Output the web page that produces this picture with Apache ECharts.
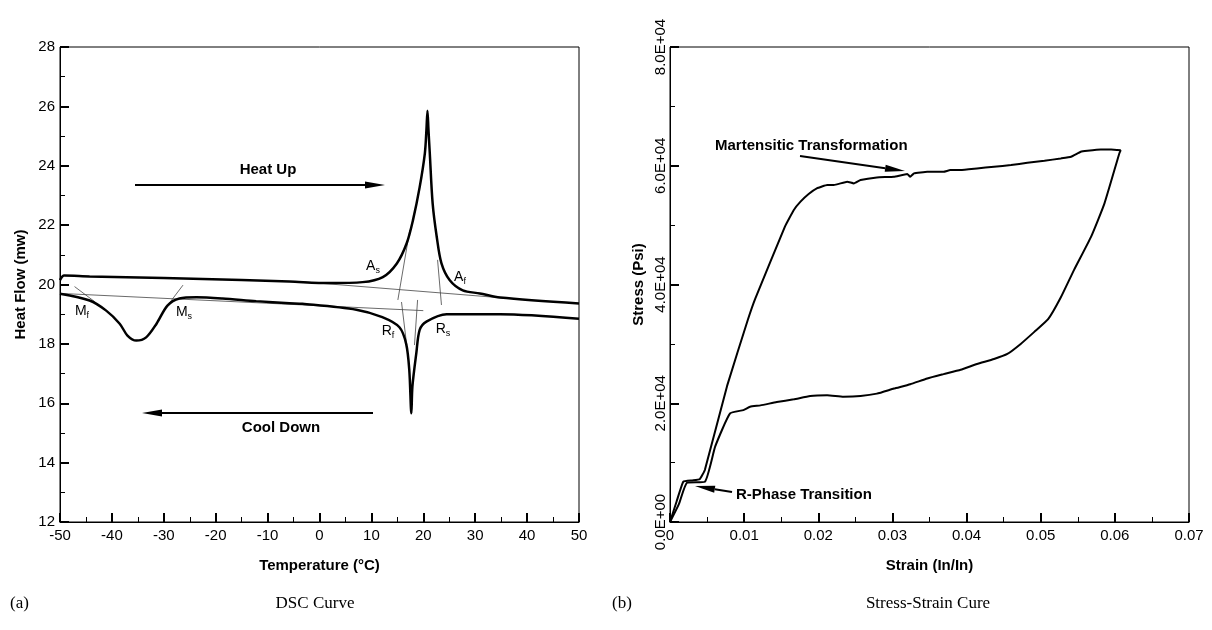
<!DOCTYPE html>
<html>
<head>
<meta charset="utf-8">
<script src="https://cdn.jsdelivr.net/npm/echarts@6/dist/echarts.min.js"></script>
<style>
  html, body { margin: 0; padding: 0; background: #fff; }
  #main { width: 1212px; height: 630px; }
</style>
</head>
<body>
<div id="main"></div>
<script>
// DSC curve (a)
var heatT = [-50, -49.2, -44.3, -30, -15, -5.8, 1.9, 8.3, 12.2, 14.9, 16.8, 18.0, 19.3, 20.3, 20.6, 20.8, 21.0, 21.25, 21.8, 22.6, 23.5, 25.1, 27.6, 30.9, 34.8, 50];
var heatH = [20.15, 20.3, 20.27, 20.22, 20.15, 20.1, 20.05, 20.08, 20.25, 20.71, 21.39, 22.16, 23.28, 24.42, 25.2, 25.85, 25.2, 24.42, 22.73, 21.59, 20.71, 20.14, 19.8, 19.7, 19.56, 19.36];
var coolT = [-50, -44.3, -41.1, -38.5, -37.0, -35.3, -33.4, -31.4, -29.3, -27.0, -23.7, -18.7, -12.2, -5.8, -3.3, 7.1, 12.1, 15.4, 16.7, 17.3, 17.7, 17.9, 18.65, 19.3, 20.6, 24.5, 34.8, 50];
var coolH = [19.69, 19.46, 19.12, 18.68, 18.28, 18.11, 18.22, 18.68, 19.29, 19.53, 19.57, 19.53, 19.44, 19.37, 19.35, 19.15, 18.9, 18.56, 18.0, 17.12, 15.66, 16.56, 17.68, 18.47, 18.75, 19.0, 19.0, 18.85];
// construction (tangent / baseline) lines
var coolBaseT = [-50, 20], coolBaseH = [19.7, 19.12];
var heatBaseT = [-3.2, 38], heatBaseH = [20.09, 19.51];
var tanAsT = [17.4, 15.1], tanAsH = [21.84, 19.48];
var tanAfT = [22.75, 23.5], tanAfH = [20.83, 19.31];
var tanRfT = [15.8, 16.8], tanRfH = [19.41, 17.96];
var tanRsT = [18.9, 18.3], tanRsH = [19.48, 17.96];
var tanMfT = [-47.2, -43.3], tanMfH = [19.93, 19.42];
var tanMsT = [-26.3, -29.2], tanMsH = [19.98, 19.31];

// Stress-strain curve (b)
var loadStrain = [0, 0.0009, 0.0018, 0.003, 0.004, 0.0047, 0.0077, 0.0105, 0.0115, 0.0155, 0.0167, 0.0176, 0.0187, 0.0198, 0.0212, 0.0221, 0.0239, 0.0248, 0.0257, 0.0279, 0.0302, 0.032, 0.0324, 0.0329, 0.0347, 0.0369, 0.0378, 0.0392, 0.0414, 0.0437, 0.046, 0.0482, 0.0505, 0.0527, 0.0541, 0.0554, 0.0563, 0.0581, 0.0595, 0.0608];
var loadStress = [0, 3500, 6790, 7000, 7190, 8770, 22920, 34060, 37630, 49750, 52550, 53950, 55240, 56190, 56750, 56750, 57310, 57030, 57590, 58040, 58150, 58600, 58150, 58710, 58990, 58990, 59270, 59270, 59550, 59830, 60110, 60500, 60840, 61230, 61510, 62350, 62520, 62750, 62750, 62630];
var unloadStrain = [0.0608, 0.0606, 0.0586, 0.0568, 0.0545, 0.0527, 0.051, 0.0491, 0.0473, 0.0455, 0.0437, 0.0414, 0.0392, 0.0369, 0.0347, 0.0324, 0.0302, 0.0279, 0.0257, 0.0234, 0.0212, 0.0189, 0.0167, 0.0144, 0.0122, 0.0108, 0.0099, 0.0081, 0.0061, 0.0047, 0.0023, 0.0012, 0];
var unloadStress = [62630, 62070, 53670, 48070, 42470, 37800, 34150, 31980, 29990, 28300, 27450, 26600, 25640, 24900, 24170, 23200, 22470, 21620, 21220, 21110, 21340, 21220, 20660, 20200, 19640, 19410, 18850, 18280, 12730, 6790, 6620, 3000, 0];

function pairs(xs, ys) {
  return xs.map(function (x, i) { return [x, ys[i]]; });
}

var FONT = 'Liberation Sans, Arial, sans-serif';

function axisStyle() {
  return {
    axisLine: { onZero: false, lineStyle: { color: '#000', width: 1 } },
    axisTick: { inside: true, length: 9, lineStyle: { color: '#000', width: 2 } },
    minorTick: { show: true, splitNumber: 2, length: 5, lineStyle: { color: '#000', width: 1 } },
    splitLine: { show: false },
    nameTextStyle: { color: '#000', fontSize: 15, fontWeight: 'bold', fontFamily: FONT }
  };
}

function mk(extra) {
  var a = axisStyle();
  for (var k in extra) a[k] = extra[k];
  return a;
}

function sciLabel(v) {
  if (v === 0) return '0.0E+00';
  var e = Math.floor(Math.log10(v));
  var m = v / Math.pow(10, e);
  return m.toFixed(1) + 'E+' + (e < 10 ? '0' + e : e);
}

function thick(xi, name, data, w, smooth) {
  return { type: 'line', name: name, xAxisIndex: xi, yAxisIndex: xi, data: data, showSymbol: false, smooth: smooth,
    lineStyle: { color: '#000', width: w }, silent: true, z: 3 };
}
function thin(data) {
  return { type: 'line', xAxisIndex: 0, yAxisIndex: 0, data: data, showSymbol: false,
    lineStyle: { color: '#444', width: 0.8 }, silent: true, z: 2 };
}

function arrow(x1, y1, x2, y2) {
  var dx = x2 - x1, dy = y2 - y1, len = Math.sqrt(dx * dx + dy * dy);
  var ux = dx / len, uy = dy / len, hl = 20, hw = 3.5;
  var bx = x2 - ux * hl, by = y2 - uy * hl;
  return [
    { type: 'line', shape: { x1: x1, y1: y1, x2: bx, y2: by }, style: { stroke: '#000', lineWidth: 2 } },
    { type: 'polygon', shape: { points: [[x2, y2], [bx - uy * hw, by + ux * hw], [bx + uy * hw, by - ux * hw]] }, style: { fill: '#000' } }
  ];
}

function boldText(x, y, t, align) {
  return { type: 'text', x: x, y: y, style: { text: t, fill: '#000', font: 'bold 15px ' + FONT, align: align || 'left', verticalAlign: 'middle' } };
}
function subText(x, y, main, sub) {
  return { type: 'text', x: x, y: y, style: {
    text: '{m|' + main + '}{s|' + sub + '}', align: 'center', verticalAlign: 'middle',
    rich: {
      m: { fontSize: 14, fontFamily: FONT, fill: '#000', lineHeight: 15 },
      s: { fontSize: 9, fontFamily: FONT, fill: '#000', lineHeight: 9, padding: [10, 0, 0, 0] }
    } } };
}
function serifText(x, y, t, align) {
  return { type: 'text', x: x, y: y, style: { text: t, fill: '#000', font: '17px Liberation Serif, Times New Roman, serif', align: align || 'left', verticalAlign: 'middle' } };
}

var chart = echarts.init(document.getElementById('main'), null, { renderer: 'canvas' });

var graphics = []
  .concat(arrow(135, 185, 385, 185))
  .concat(arrow(373, 413, 142, 413))
  .concat(arrow(800, 156, 905, 171))
  .concat(arrow(732, 492, 695, 486))
  .concat([
    boldText(268, 170, 'Heat Up', 'center'),
    boldText(281, 428, 'Cool Down', 'center'),
    boldText(715, 146, 'Martensitic Transformation'),
    boldText(736, 495, 'R-Phase Transition'),
    subText(82, 311, 'M', 'f'),
    subText(184, 312, 'M', 's'),
    subText(373, 266, 'A', 's'),
    subText(460, 277, 'A', 'f'),
    subText(388, 331, 'R', 'f'),
    subText(443, 329, 'R', 's'),
    serifText(10, 604, '(a)'),
    serifText(315, 604, 'DSC Curve', 'center'),
    serifText(612, 604, '(b)'),
    serifText(928, 604, 'Stress-Strain Cure', 'center')
  ]);

var option = {
  backgroundColor: '#fff',
  animation: false,
  textStyle: { fontFamily: FONT },
  grid: [
    { left: 60, right: 633, top: 47, bottom: 108, show: true, borderColor: '#000', borderWidth: 1 },
    { left: 670, right: 23, top: 47, bottom: 108, show: true, borderColor: '#000', borderWidth: 1 }
  ],
  xAxis: [
    mk({ type: 'value', gridIndex: 0, min: -50, max: 50, interval: 10, name: 'Temperature (°C)', nameLocation: 'middle', nameGap: 36,
      axisLabel: { color: '#000', fontSize: 15, fontFamily: FONT, margin: 6 } }),
    mk({ type: 'value', gridIndex: 1, min: 0, max: 0.07, interval: 0.01, name: 'Strain (In/In)', nameLocation: 'middle', nameGap: 36,
      axisLabel: { color: '#000', fontSize: 15, fontFamily: FONT, margin: 6,
        formatter: function (v) { return v === 0 ? '0' : v.toFixed(2); } } })
  ],
  yAxis: [
    mk({ type: 'value', gridIndex: 0, min: 12, max: 28, interval: 2, name: 'Heat Flow (mw)', nameLocation: 'middle', nameGap: 32,
      axisLabel: { color: '#000', fontSize: 15, fontFamily: FONT, margin: 5 } }),
    mk({ type: 'value', gridIndex: 1, min: 0, max: 80000, interval: 20000, name: 'Stress (Psi)', nameLocation: 'middle', nameGap: 24,
      axisLabel: { color: '#000', fontSize: 15, fontFamily: FONT, margin: 2, rotate: 90, formatter: sciLabel } })
  ],
  series: [
    thin(pairs(coolBaseT, coolBaseH)),
    thin(pairs(heatBaseT, heatBaseH)),
    thin(pairs(tanAsT, tanAsH)),
    thin(pairs(tanAfT, tanAfH)),
    thin(pairs(tanRfT, tanRfH)),
    thin(pairs(tanRsT, tanRsH)),
    thin(pairs(tanMfT, tanMfH)),
    thin(pairs(tanMsT, tanMsH)),
    thick(0, 'Heating', pairs(heatT, heatH), 2.5, 0.3),
    thick(0, 'Cooling', pairs(coolT, coolH), 2.5, 0.3),
    thick(1, 'Loading', pairs(loadStrain, loadStress), 2, 0.1),
    thick(1, 'Unloading', pairs(unloadStrain, unloadStress), 2, 0.15)
  ],
  graphic: graphics
};

chart.setOption(option);
</script>
</body>
</html>
